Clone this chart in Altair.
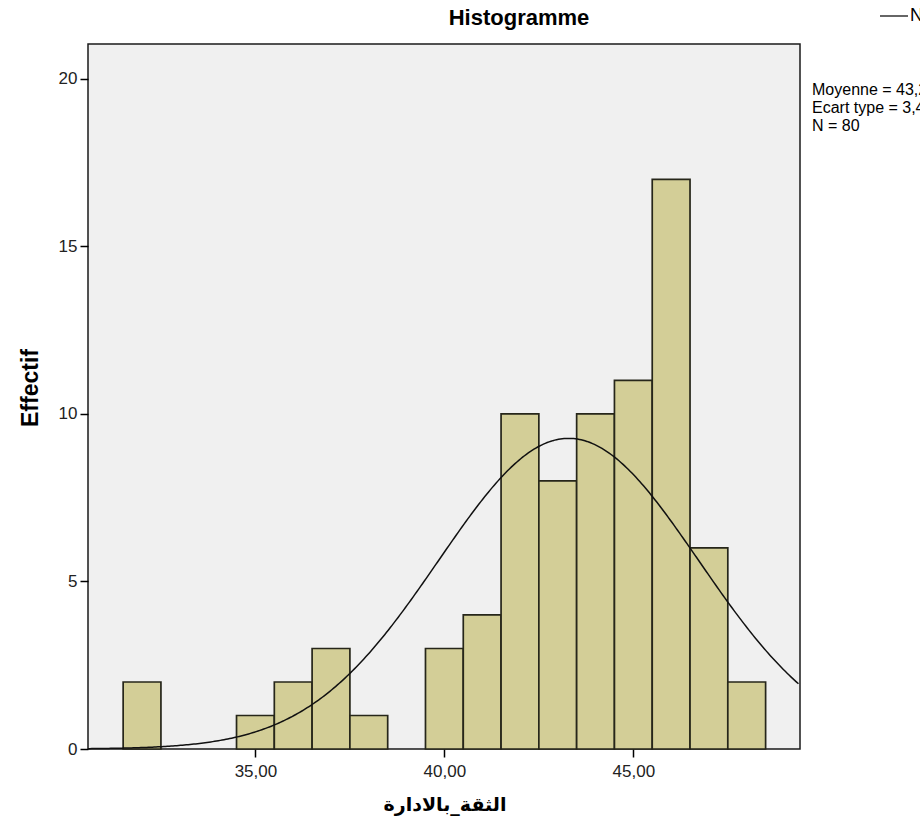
import altair as alt
import pandas as pd

# ---- data ----
values = [32, 35, 36, 37, 38, 40, 41, 42, 43, 44, 45, 46, 47, 48]
counts = [2, 1, 2, 3, 1, 3, 4, 10, 8, 10, 11, 17, 6, 2]
x_ticks = [35, 40, 45]
y_ticks = [0, 5, 10, 15, 20]
x_domain = [30.57, 49.41]
y_domain = [0, 21.04]

N = sum(counts)
mean = sum(v * c for v, c in zip(values, counts)) / N
sd = (sum(c * (v - mean) ** 2 for v, c in zip(values, counts)) / (N - 1)) ** 0.5

bars = pd.DataFrame({"value": values, "count": counts})
bars["start"] = bars["value"] - 0.5
bars["end"] = bars["value"] + 0.5
bars["base"] = 0

W, H = 712, 705
PAD = {"left": 88, "top": 44, "right": 920 - 88 - W, "bottom": 831 - 44 - H}
FONT = "Liberation Sans"

xs = alt.Scale(domain=x_domain, nice=False, zero=False)
ys = alt.Scale(domain=y_domain, nice=False, zero=False)

x_axis = alt.Axis(values=x_ticks, labelExpr="replace(format(datum.value, '.2f'), '.', ',')",
                  title=None, grid=False, domain=False, tickSize=8, tickColor="#000",
                  tickWidth=1.5, labelFont=FONT, labelFontSize=17, labelColor="#222",
                  labelPadding=6)
y_axis = alt.Axis(values=y_ticks, title=None, grid=False, domain=False, tickSize=8,
                  tickColor="#000", tickWidth=1.5, labelFont=FONT, labelFontSize=17,
                  labelColor="#222", labelPadding=3)

bar_layer = alt.Chart(bars).mark_rect(fill="#d3ce97", stroke="#26261a", strokeWidth=1.7).encode(
    x=alt.X("start:Q", scale=xs, axis=x_axis),
    x2="end:Q",
    y=alt.Y("count:Q", scale=ys, axis=y_axis),
    y2="base:Q",
)

curve = alt.Chart(alt.sequence(start=x_domain[0], stop=x_domain[1] + 0.001, step=0.05, as_="x")).transform_calculate(
    y=f"{N} / ({sd} * sqrt(2 * PI)) * exp(-0.5 * pow((datum.x - {mean}) / {sd}, 2))"
).mark_line(color="#111", strokeWidth=1.5).encode(
    x=alt.X("x:Q", scale=xs),
    y=alt.Y("y:Q", scale=ys),
)

dummy = pd.DataFrame({"d": [0]})


def label(text, x, y, size, bold=False, angle=0, align="left", font=FONT):
    return alt.Chart(dummy).mark_text(
        text=text, fontSize=size, fontWeight="bold" if bold else "normal", font=font,
        align=align, baseline="middle", angle=angle, color="#000"
    ).encode(x=alt.value(x), y=alt.value(y))


title = label("Histogramme", 519 - 88, 18 - 44, 22, bold=True, align="center")
ylab = label("Effectif", 31 - 88, 388 - 44, 23, bold=True, angle=270, align="center")
xlab = label("الثقة_بالادارة", 445 - 88, 805 - 44, 19, bold=True, align="center", font="DejaVu Sans")

leg_line = alt.Chart(dummy).mark_rule(color="#333", strokeWidth=1.5).encode(
    x=alt.value(880 - 88), x2=alt.value(908 - 88), y=alt.value(16 - 44))
leg_text = label("Normale", 910 - 88, 16 - 44, 18)
stats = [f"Moyenne = {mean:.2f}".replace(".", ","),
         f"Ecart type = {sd:.3f}".replace(".", ","),
         f"N = {N}"]
stat_layers = [label(t, 812 - 88, 90 + 18 * i - 44, 16) for i, t in enumerate(stats)]

chart = alt.layer(bar_layer, curve, title, ylab, xlab, leg_line, leg_text, *stat_layers).properties(
    width=W, height=H, padding=PAD, autosize=alt.AutoSizeParams(type="none"),
    background="#ffffff",
).configure_view(fill="#f0f0f0", stroke="#1a1a1a", strokeWidth=1.5)

chart.save("out.html", embed_options={"renderer": "svg", "actions": False})
